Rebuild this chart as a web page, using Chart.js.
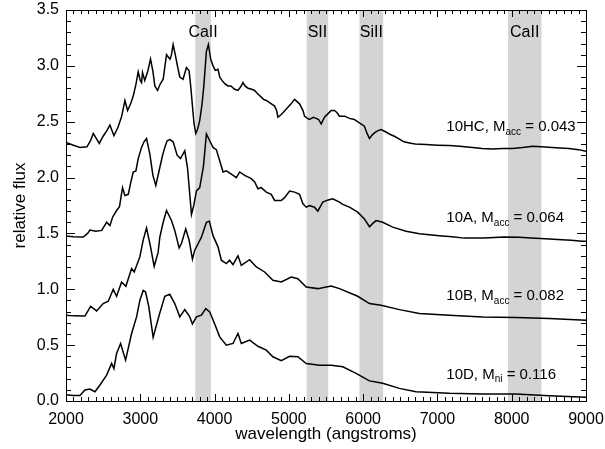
<!DOCTYPE html>
<html>
<head>
<meta charset="utf-8">
<script src="https://cdn.jsdelivr.net/npm/chart.js@4.4.1/dist/chart.umd.min.js"></script>
<style>
  html, body { margin: 0; padding: 0; background: #fff; }
  #wrap { width: 605px; height: 449px; position: relative; }
</style>
</head>
<body>
<div id="wrap"><canvas id="spectra"></canvas></div>
<script>
const FONT = "'Liberation Sans', Arial, Helvetica, sans-serif";

// spectra (wavelength in angstroms, relative flux with offsets)
const wave10HC = [2000, 2100, 2188, 2282, 2330, 2367, 2448, 2500, 2550, 2591, 2645, 2700, 2750, 2793, 2829, 2870, 2905, 2940, 2972, 3000, 3017, 3030, 3060, 3100, 3138, 3170, 3196, 3232, 3270, 3308, 3353, 3400, 3420, 3442, 3474, 3500, 3532, 3576, 3621, 3657, 3680, 3705, 3724, 3747, 3770, 3800, 3830, 3854, 3890, 3917, 3948, 3979, 4010, 4046, 4069, 4100, 4137, 4180, 4220, 4270, 4315, 4350, 4382, 4410, 4450, 4500, 4539, 4580, 4629, 4660, 4696, 4740, 4808, 4835, 4853, 4890, 4920, 4987, 5030, 5077, 5110, 5144, 5190, 5211, 5250, 5278, 5330, 5368, 5400, 5435, 5480, 5524, 5570, 5614, 5650, 5681, 5750, 5816, 5880, 5950, 6017, 6050, 6085, 6120, 6152, 6200, 6242, 6300, 6353, 6420, 6488, 6550, 6622, 6700, 6846, 7000, 7159, 7300, 7473, 7600, 7742, 7880, 8010, 8150, 8279, 8400, 8548, 8650, 8772, 8900, 9000];
const flux10HC = [2.315, 2.29, 2.27, 2.275, 2.33, 2.395, 2.306, 2.37, 2.42, 2.47, 2.375, 2.45, 2.55, 2.69, 2.60, 2.66, 2.73, 2.83, 2.946, 2.87, 2.85, 2.94, 2.87, 2.95, 3.06, 2.95, 2.82, 2.78, 2.84, 2.88, 3.10, 3.06, 3.10, 3.19, 3.09, 3.00, 2.90, 2.88, 2.985, 2.955, 2.81, 2.62, 2.48, 2.395, 2.43, 2.51, 2.65, 2.81, 3.13, 3.19, 3.06, 3.0, 2.96, 2.97, 2.90, 2.87, 2.84, 2.82, 2.82, 2.79, 2.78, 2.81, 2.85, 2.82, 2.80, 2.79, 2.78, 2.75, 2.72, 2.70, 2.69, 2.67, 2.64, 2.60, 2.54, 2.56, 2.58, 2.63, 2.66, 2.70, 2.68, 2.66, 2.60, 2.55, 2.53, 2.52, 2.54, 2.53, 2.52, 2.48, 2.54, 2.57, 2.60, 2.60, 2.58, 2.55, 2.55, 2.53, 2.52, 2.49, 2.46, 2.40, 2.35, 2.38, 2.40, 2.42, 2.43, 2.41, 2.39, 2.37, 2.345, 2.32, 2.31, 2.30, 2.295, 2.29, 2.286, 2.28, 2.27, 2.26, 2.256, 2.26, 2.26, 2.27, 2.28, 2.275, 2.27, 2.265, 2.26, 2.25, 2.235];

const wave10A = [2000, 2100, 2233, 2290, 2323, 2400, 2480, 2547, 2591, 2627, 2681, 2720, 2761, 2793, 2838, 2870, 2905, 2941, 2972, 3017, 3050, 3084, 3129, 3170, 3209, 3263, 3300, 3330, 3361, 3400, 3442, 3496, 3541, 3599, 3635, 3660, 3689, 3720, 3756, 3800, 3850, 3890, 3920, 3979, 4024, 4069, 4114, 4158, 4226, 4293, 4338, 4405, 4495, 4540, 4584, 4629, 4696, 4763, 4808, 4898, 4942, 5010, 5077, 5144, 5189, 5234, 5278, 5345, 5390, 5457, 5530, 5591, 5681, 5726, 5816, 5927, 6017, 6085, 6130, 6175, 6263, 6398, 6578, 6757, 7025, 7200, 7360, 7629, 7898, 8100, 8257, 8450, 8615, 8800, 8951, 9000];
const flux10A = [1.476, 1.47, 1.467, 1.50, 1.53, 1.52, 1.527, 1.60, 1.57, 1.645, 1.705, 1.74, 1.91, 1.84, 1.85, 1.95, 2.05, 2.06, 2.17, 2.27, 2.32, 2.35, 2.21, 2.02, 1.93, 2.09, 2.20, 2.27, 2.33, 2.34, 2.32, 2.20, 2.17, 2.24, 2.09, 1.90, 1.67, 1.75, 1.88, 1.91, 2.10, 2.39, 2.35, 2.27, 2.25, 2.15, 2.05, 2.06, 2.03, 2.00, 2.05, 2.02, 1.99, 1.96, 1.90, 1.91, 1.87, 1.85, 1.795, 1.795, 1.82, 1.88, 1.87, 1.85, 1.765, 1.735, 1.75, 1.735, 1.70, 1.78, 1.80, 1.81, 1.78, 1.76, 1.735, 1.69, 1.63, 1.56, 1.59, 1.615, 1.60, 1.556, 1.52, 1.497, 1.48, 1.47, 1.458, 1.458, 1.467, 1.465, 1.458, 1.452, 1.446, 1.44, 1.43, 1.43];

const wave10B = [2000, 2100, 2255, 2331, 2412, 2501, 2569, 2636, 2681, 2748, 2806, 2883, 2918, 2994, 3039, 3084, 3138, 3187, 3240, 3263, 3308, 3353, 3420, 3464, 3523, 3554, 3612, 3657, 3702, 3733, 3780, 3823, 3890, 3930, 3979, 4046, 4091, 4158, 4203, 4248, 4315, 4360, 4472, 4562, 4674, 4785, 4898, 5032, 5121, 5234, 5390, 5570, 5681, 5927, 6085, 6242, 6488, 6757, 7159, 7607, 8055, 8503, 9000];
const flux10B = [0.768, 0.762, 0.76, 0.848, 0.806, 0.872, 0.893, 1.00, 0.9375, 1.065, 1.027, 1.185, 1.155, 1.29, 1.44, 1.55, 1.38, 1.205, 1.33, 1.467, 1.60, 1.705, 1.616, 1.527, 1.37, 1.41, 1.54, 1.44, 1.27, 1.35, 1.41, 1.467, 1.60, 1.61, 1.48, 1.38, 1.26, 1.23, 1.26, 1.22, 1.30, 1.214, 1.265, 1.20, 1.155, 1.08, 1.065, 1.11, 1.095, 1.02, 1.006, 1.03, 1.006, 0.9375, 0.872, 0.857, 0.818, 0.783, 0.768, 0.753, 0.747, 0.738, 0.723];

const wave10D = [2000, 2100, 2188, 2255, 2322, 2390, 2457, 2547, 2614, 2645, 2681, 2735, 2802, 2883, 2950, 2994, 3039, 3071, 3115, 3173, 3254, 3330, 3397, 3464, 3532, 3599, 3666, 3702, 3756, 3823, 3881, 3935, 4002, 4069, 4158, 4248, 4315, 4360, 4472, 4584, 4696, 4785, 4898, 5010, 5121, 5234, 5413, 5570, 5726, 5905, 6085, 6263, 6488, 6712, 7159, 7607, 8055, 8503, 9000];
const flux10D = [0.055, 0.05, 0.05, 0.098, 0.107, 0.083, 0.143, 0.232, 0.336, 0.29, 0.426, 0.515, 0.366, 0.604, 0.753, 0.90, 0.99, 0.976, 0.842, 0.57, 0.768, 0.9375, 0.955, 0.872, 0.753, 0.818, 0.753, 0.69, 0.753, 0.768, 0.827, 0.797, 0.69, 0.574, 0.50, 0.515, 0.604, 0.515, 0.545, 0.49, 0.455, 0.396, 0.36, 0.40, 0.396, 0.336, 0.32, 0.32, 0.306, 0.247, 0.18, 0.158, 0.113, 0.083, 0.069, 0.0625, 0.0625, 0.048, 0.033];

// shaded line regions
const bandStart = [3740, 5240, 5950, 7950];
const bandEnd = [3950, 5530, 6270, 8400];
const bandLabels = ['CaII', 'SII', 'SiII', 'CaII'];
const bandLabelY = 3.3;

// model annotations
const modelNames = ['10HC', '10A', '10B', '10D'];
const massKind = ['acc', 'acc', 'acc', 'ni'];
const massValues = ['0.043', '0.064', '0.082', '0.116'];
const labelX = 7120;
const labelY = [2.45, 1.635, 0.94, 0.235];

function toPoints(w, f) {
    return w.map((x, i) => ({ x: x, y: f[i] }));
}

function makeSet(name, w, f) {
    return {
        label: name,
        data: toPoints(w, f),
        borderColor: '#000',
        borderWidth: 1.5,
        pointRadius: 0,
        tension: 0,
        fill: false
    };
}

const bandsPlugin = {
    id: 'bands',
    beforeDatasetsDraw(chart) {
        const { ctx, chartArea: a, scales: { x } } = chart;
        ctx.save();
        ctx.fillStyle = '#d4d4d4';
        bandStart.forEach((b, i) => {
            const x0 = x.getPixelForValue(b);
            const x1 = x.getPixelForValue(bandEnd[i]);
            ctx.fillRect(x0, a.top, x1 - x0, a.bottom - a.top);
        });
        ctx.restore();
    }
};

const axesPlugin = {
    id: 'idlAxes',
    afterDatasetsDraw(chart) {
        const { ctx, chartArea: a, scales: { x, y } } = chart;
        ctx.save();
        ctx.strokeStyle = '#000';
        ctx.lineWidth = 1;
        ctx.strokeRect(a.left + 0.5, a.top + 0.5, a.right - a.left, a.bottom - a.top);

        ctx.beginPath();
        for (let v = 2000; v <= 9000; v += 100) {
            const px = Math.round(x.getPixelForValue(v)) + 0.5;
            const len = v % 1000 === 0 ? 7 : 4;
            ctx.moveTo(px, a.bottom); ctx.lineTo(px, a.bottom - len);
            ctx.moveTo(px, a.top); ctx.lineTo(px, a.top + len);
        }
        for (let k = 0; k <= 35; k++) {
            const py = Math.round(y.getPixelForValue(k / 10)) + 0.5;
            const len = k % 5 === 0 ? 9 : 5;
            ctx.moveTo(a.left, py); ctx.lineTo(a.left + len, py);
            ctx.moveTo(a.right, py); ctx.lineTo(a.right - len, py);
        }
        ctx.stroke();

        // band labels
        ctx.fillStyle = '#000';
        ctx.font = '16px ' + FONT;
        ctx.textAlign = 'center';
        ctx.textBaseline = 'middle';
        bandLabels.forEach((t, i) => {
            const cx = x.getPixelForValue((bandStart[i] + bandEnd[i]) / 2);
            ctx.fillText(t, cx, y.getPixelForValue(bandLabelY));
        });

        // model labels with subscripts
        ctx.textAlign = 'left';
        modelNames.forEach((n, i) => {
            let px = x.getPixelForValue(labelX);
            const py = y.getPixelForValue(labelY[i]);
            ctx.font = '15px ' + FONT;
            const head = n + ', M';
            ctx.fillText(head, px, py);
            px += ctx.measureText(head).width;
            ctx.font = '10px ' + FONT;
            ctx.fillText(massKind[i], px, py + 5);
            px += ctx.measureText(massKind[i]).width;
            ctx.font = '15px ' + FONT;
            ctx.fillText(' = ' + massValues[i], px, py);
        });
        ctx.restore();
    }
};

const ctx = document.getElementById('spectra').getContext('2d');
const chart = new Chart(ctx, {
    type: 'line',
    data: {
        datasets: [
            makeSet('10HC', wave10HC, flux10HC),
            makeSet('10A', wave10A, flux10A),
            makeSet('10B', wave10B, flux10B),
            makeSet('10D', wave10D, flux10D)
        ]
    },
    options: {
        responsive: true,
        maintainAspectRatio: false,
        animation: false,
        layout: { padding: { left: 0, right: 19, top: 10, bottom: 0 } },
        plugins: {
            legend: { display: false },
            tooltip: { enabled: false }
        },
        scales: {
            x: {
                type: 'linear',
                min: 2000,
                max: 9000,
                grid: { display: false, drawTicks: false },
                border: { display: false },
                ticks: {
                    stepSize: 1000,
                    autoSkip: false,
                    maxRotation: 0,
                    padding: 9,
                    color: '#000',
                    font: { family: FONT, size: 16 },
                    callback: v => String(v)
                },
                title: {
                    display: true,
                    text: 'wavelength (angstroms)',
                    color: '#000',
                    font: { family: FONT, size: 17 },
                    padding: { top: 0, bottom: 4 }
                },
                afterFit: s => {
                    s.height = 48;
                    s.paddingLeft = 0;
                    s.paddingRight = 0;
                }
            },
            y: {
                min: 0,
                max: 3.5,
                grid: { display: false, drawTicks: false },
                border: { display: false },
                ticks: {
                    stepSize: 0.5,
                    padding: 7,
                    color: '#000',
                    font: { family: FONT, size: 16 },
                    callback: v => v.toFixed(1)
                },
                title: {
                    display: true,
                    text: 'relative flux',
                    color: '#000',
                    font: { family: FONT, size: 17 },
                    padding: { top: 10, bottom: 0 }
                },
                afterFit: s => {
                    s.width = 66;
                    s.paddingTop = 0;
                    s.paddingBottom = 0;
                }
            }
        }
    },
    plugins: [bandsPlugin, axesPlugin]
});
</script>
</body>
</html>
